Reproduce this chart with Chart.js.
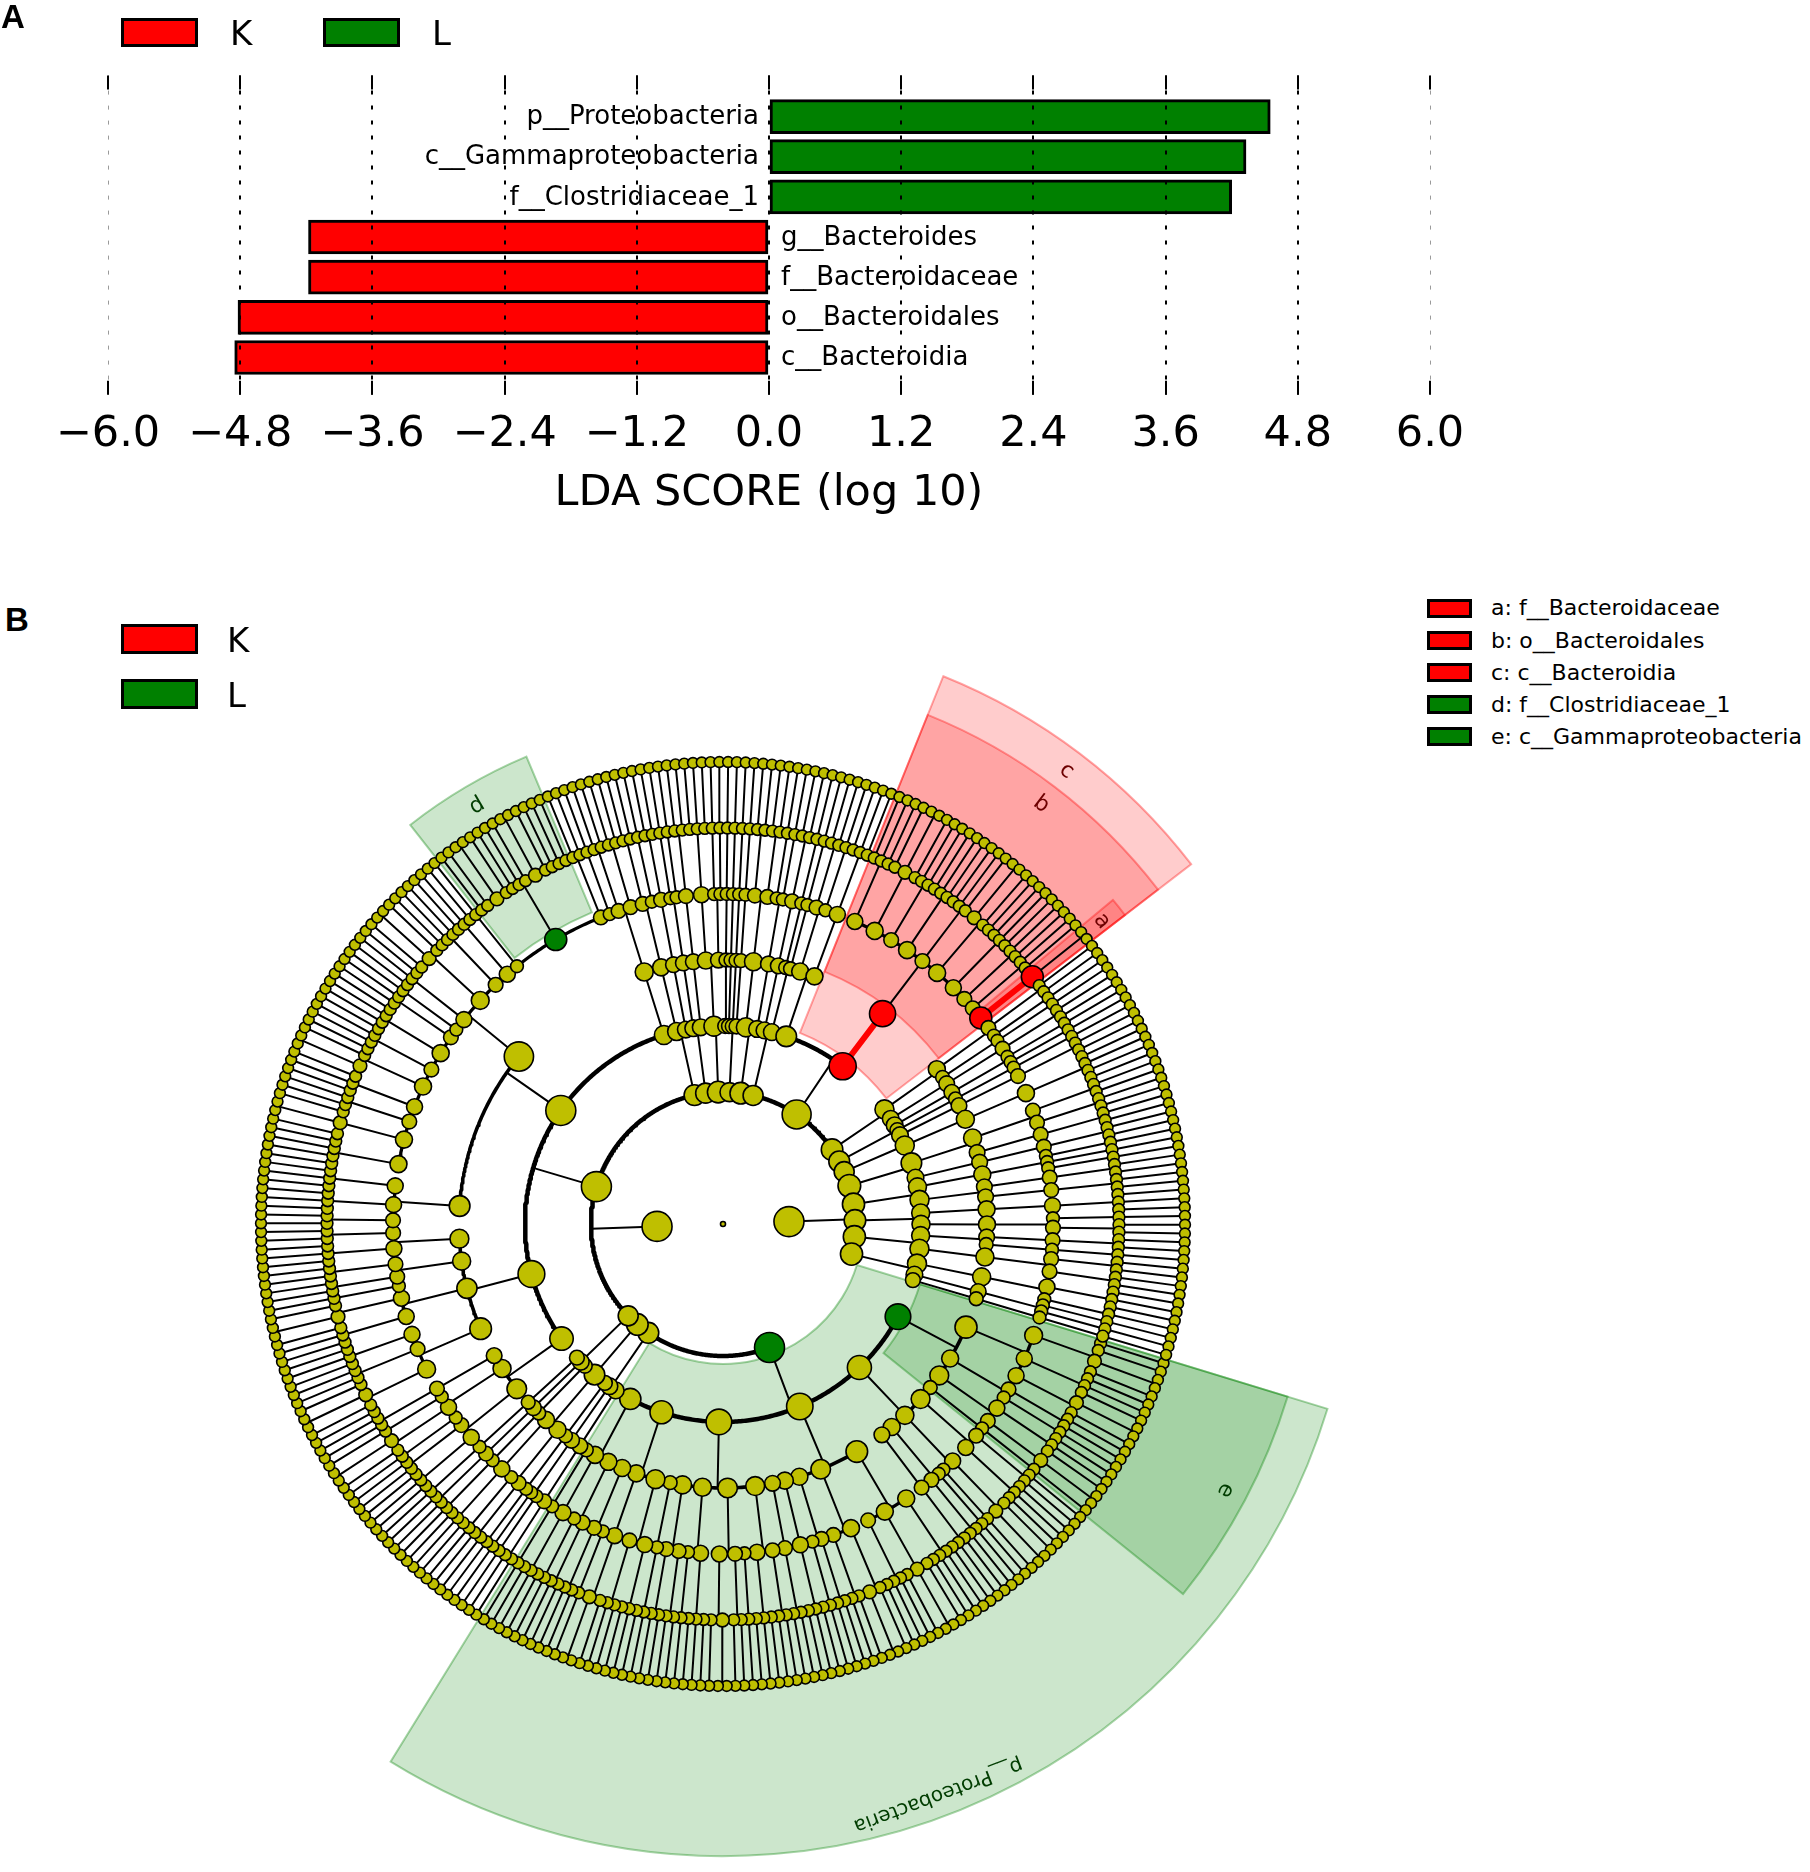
<!DOCTYPE html>
<html>
<head>
<meta charset="utf-8">
<script src="https://cdn.jsdelivr.net/npm/chart.js@4.4.1/dist/chart.umd.min.js"></script>
<style>
html, body { margin: 0; padding: 0; background: #fff; }
body { width: 1810px; height: 1872px; position: relative; overflow: hidden; font-family: "DejaVu Sans", sans-serif; }
.abs { position: absolute; }
.panel { font-family: "Liberation Sans", Arial, sans-serif; font-weight: bold; font-size: 33px; line-height: 33px; }
.box { position: absolute; box-sizing: border-box; border: 3px solid #000; }
.big { position: absolute; font-size: 34px; line-height: 34px; }
.small { position: absolute; font-size: 22px; line-height: 22px; white-space: nowrap; }
</style>
</head>
<body>
<canvas id="lda" class="abs" style="left:0;top:0" width="1810" height="540"></canvas>
<canvas id="clado" class="abs" style="left:73px;top:574px" width="1300" height="1300"></canvas>
<div class="abs panel" style="left:1px;top:0px">A</div>
<div class="abs panel" style="left:5px;top:603px">B</div>
<div id="legA"></div>
<div id="legB"></div>
<div id="legClades"></div>
<script>
// ---- panel A : LDA scores
const taxa = ['p__Proteobacteria', 'c__Gammaproteobacteria', 'f__Clostridiaceae_1',
              'g__Bacteroides', 'f__Bacteroidaceae', 'o__Bacteroidales', 'c__Bacteroidia'];
const ldaScore = [4.55, 4.33, 4.20, -4.18, -4.18, -4.82, -4.85];
const ldaClass = ['L', 'L', 'L', 'K', 'K', 'K', 'K'];
const xTicks = [-6.0, -4.8, -3.6, -2.4, -1.2, 0.0, 1.2, 2.4, 3.6, 4.8, 6.0];
const classNames = ['K', 'L'];
const classColor = { K: '#ff0000', L: '#008000' };

// ---- panel B : cladogram
// nesting: kingdom > phylum > class > order > family > genus, a number n = node with n leaf children
const gammaproteobacteria = [ [[1,1,2,1],[1,1,1],[2,1]], [[1,1],[1]], [[1,1,1],[2]], [[1]] ];
const alphaproteobacteria = [ [[1,1],[1,1,1]], [[1,2],[1]], [[1],[1,1]], [[1,1]] ];
const betaproteobacteria = [ [[1,1,1,1],[1,2,1],[1,1]], [[1,1,2],[1,1]], [[1,1],[1]], [[1,1,1]], [[1,1]] ];
const deltaproteobacteria = [ [[1,1],[1,1,1]], [[1],[1,1],[2,1]], [[1,1,1],[1]], [[1,1],[1,1]], [[1]] ];
const epsilonproteobacteria = [ [[1,1,1],[1,1]], [[1,2]], [[1],[1,1]] ];
const otherProteo = [ [[1,1],[1]], [[1,1,1]], [[1]] ];
const proteobacteria = [gammaproteobacteria, alphaproteobacteria, betaproteobacteria,
                        deltaproteobacteria, epsilonproteobacteria, otherProteo];

const phylumA = [ [[[1,1]]], [[[1],[1]]], [[[1]]] ];
const phylumB = [ [[[1,1],[1]], [[1,1,1]]] ];
const phylumC = [ [[[1]]], [[[1,1]]], [[[1]]] ];

const erysipelotrichia = [ [[1,1,1],[1,1],[1]], [[1,2],[1]], [[1,1]] ];
const bacilli = [ [[1,1,2,1],[1,1],[1,1,1]], [[1,1,1],[2,1],[1]], [[1,1],[1,1]], [[1,1,1],[1,1]] ];
const clostridiaceae1 = [1,1,2,1,1,1,1,2,1,1,1,1];
const clostridiales = [ [1,1,1,1],[1,2,1],[1,1],[1,1,1],[2,1,1],[1,1],[1,1,1,1],[1,1],[1],[1,1,1],
                        [1,2,1,1],[1,1],[1,1,1],[1], clostridiaceae1, [1,1],[1] ];
const clostridia = [ [[1,1],[1,1,1],[1,1,1]], clostridiales ];
const negativicutes = [ [[1,1],[1,1]] ];
const firmicutes = [erysipelotrichia, bacilli, clostridia, negativicutes];

const phylumT1 = [ [[[1,1],[1]]], [[[1,1]]] ];
const phylumT2 = [ [[[1],[1]]], [[[1,1]]] ];
const phylumT3 = [ [[[1,1,1]],[[1],[1]]], [[[1]]] ];
const phylumT4 = [ [[[1]]], [[[1]]], [[[1]]] ];
const phylumT5 = [ [[[1,1],[1,1]]], [[[1],[1]]] ];
const phylumT6 = [ [[[1,1]]], [[[1]],[[1]]] ];

const bacteroidia = [ [ [1,1,1],[1,2,1],[1,1],[1,1,1,1],[1,1],[2,1,1],[1,1,1],[1,1],[1,1],[2] ] ];
const bacteroidetes = [ [[[1,1],[1]], [[1,1,1]]], bacteroidia ];

const phylumR1 = [ [[[1,1],[1]], [[1]]], [[[1,1]]] ];
const phylumR2 = [ [[[1],[1]]], [[[1]]], [[[1,1]]] ];
const phylumR3 = [ [[[1,1,1,1]]] ];

const phylumK1 = [ [[[1,1],[1,1]], [[1,1]]], [[[1,1]]] ];
const phylumK2 = [ [[[1],[1],[1]]], [[[1,1]],[[1,1]]] ];
const phylumK3 = [ [[[1,1,1]]], [[[1],[1,1]]] ];
const phylumK4 = [ [[[1,1]],[[1]]], [[[1,1],[1,1]]] ];
const phylumK5 = [ [[[1,1,1],[1]]], [[[1],[1]]], [[[1]]] ];

const kingdomA = [proteobacteria, phylumA, phylumB, phylumC, firmicutes,
                  phylumT1, phylumT2, phylumT3, phylumT4, phylumT5, phylumT6,
                  bacteroidetes, phylumR1, phylumR2, phylumR3];
const kingdomB = [phylumK1, phylumK2, phylumK3, phylumK4, phylumK5];
const kingdoms = [kingdomA, kingdomB];

// biomarkers: path = kingdom, phylum, class, order, family, genus indices
const markerNames = ['p__Proteobacteria', 'c__Gammaproteobacteria', 'f__Clostridiaceae_1',
                     'c__Bacteroidia', 'o__Bacteroidales', 'f__Bacteroidaceae', 'g__Bacteroides'];
const markerPaths = [[0,0], [0,0,0], [0,4,2,1,14], [0,11,1], [0,11,1,0], [0,11,1,0,9], [0,11,1,0,9,0]];
const markerClass = ['L', 'L', 'L', 'K', 'K', 'K', 'K'];
const markerShade = ['p__Proteobacteria', 'e', 'd', 'c', 'b', 'a', ''];

const FONT = 'DejaVu Sans';

// ---------- legends (html)
function legendBox(parent, x, y, w, h, color) {
  const d = document.createElement('div');
  d.className = 'box';
  d.style.cssText = `left:${x}px;top:${y}px;width:${w}px;height:${h}px;background:${color}`;
  parent.appendChild(d);
}
function legendText(parent, cls, x, top, txt) {
  const d = document.createElement('div');
  d.className = cls;
  d.style.left = x + 'px';
  d.style.top = top + 'px';
  d.textContent = txt;
  parent.appendChild(d);
}
const legA = document.getElementById('legA');
classNames.forEach((c, i) => {
  legendBox(legA, 121 + i * 202, 18, 77, 29, classColor[c]);
  legendText(legA, 'big', 230 + i * 202, 16, c);
});
const legB = document.getElementById('legB');
classNames.forEach((c, i) => {
  legendBox(legB, 121, 624 + i * 55, 77, 30, classColor[c]);
  legendText(legB, 'big', 227, 623 + i * 55, c);
});
const legC = document.getElementById('legClades');
markerShade.map((s, i) => i).filter(i => markerShade[i].length === 1)
  .sort((a, b) => markerShade[a] < markerShade[b] ? -1 : 1)
  .forEach((i, row) => {
    const cy = 608 + row * 32.2;
    legendBox(legC, 1427, cy - 9.5, 45, 19, classColor[markerClass[i]]);
    legendText(legC, 'small', 1491, cy - 10.6, markerShade[i] + ': ' + markerNames[i]);
  });

// ---------- panel A chart
function fmtTick(v) {
  const s = Math.abs(v).toFixed(1);
  return v < -1e-9 ? '\u2212' + s : s;
}
const ldaPlugin = {
  id: 'ldaLabels',
  afterDatasetsDraw(chart) {
    const ctx = chart.ctx;
    const meta = chart.getDatasetMeta(0);
    ctx.save();
    ctx.font = `26px "${FONT}"`;
    ctx.fillStyle = '#000';
    ctx.textBaseline = 'middle';
    meta.data.forEach((el, i) => {
      if (ldaScore[i] >= 0) {
        ctx.textAlign = 'right';
        ctx.fillText(taxa[i], el.base - 11, el.y + 1);
      } else {
        ctx.textAlign = 'left';
        ctx.fillText(taxa[i], el.base + 13, el.y + 1);
      }
    });
    ctx.restore();
  },
  afterDraw(chart) {
    const ctx = chart.ctx, xs = chart.scales.x, area = chart.chartArea;
    ctx.save();
    ctx.strokeStyle = '#000';
    ctx.lineWidth = 2;
    xTicks.forEach(v => {
      const px = Math.round(xs.getPixelForValue(v));
      ctx.beginPath();
      ctx.moveTo(px, area.top); ctx.lineTo(px, area.top + 14);
      ctx.moveTo(px, area.bottom - 14); ctx.lineTo(px, area.bottom);
      ctx.stroke();
    });
    ctx.restore();
  }
};

new Chart(document.getElementById('lda'), {
  type: 'bar',
  data: {
    datasets: [{
      data: ldaScore.map((v, i) => ({ x: v, y: i })),
      backgroundColor: ldaClass.map(c => classColor[c]),
      borderColor: '#000',
      borderWidth: 3,
      borderSkipped: false,
      barThickness: 34
    }]
  },
  options: {
    indexAxis: 'y',
    responsive: false,
    animation: false,
    events: [],
    layout: { autoPadding: false, padding: { left: 108, right: 380, top: 75.6, bottom: 20 } },
    plugins: { legend: { display: false }, tooltip: { enabled: false } },
    scales: {
      x: {
        type: 'linear', min: -6, max: 6,
        afterBuildTicks: s => { s.ticks = xTicks.map(v => ({ value: v })); },
        ticks: { callback: v => fmtTick(v), font: { family: FONT, size: 43 }, color: '#000',
                 padding: 14, maxRotation: 0, autoSkip: false },
        grid: {
          z: 1, drawTicks: false,
          color: c => Math.abs(c.tick.value) > 5.9 ? '#9a9a9a' : '#000',
          lineWidth: c => Math.abs(c.tick.value) > 5.9 ? 1 : 2
        },
        border: { display: false, dash: [4, 11] },
        title: { display: true, text: 'LDA SCORE (log 10)', font: { family: FONT, size: 43 },
                 color: '#000', padding: { top: -6, bottom: 0 } }
      },
      y: { type: 'linear', min: -1.02, max: 6.93, reverse: true, offset: false, display: false }
    }
  },
  plugins: [ldaPlugin]
});

// ---------- panel B : layout of the cladogram
const ringStep = 66;
const startAngle = 107;   // degrees clockwise from north where the first leaf slot begins
let leafTotal = 0;
function build(spec, level, path) {
  const node = { level, path, children: [] };
  if (Array.isArray(spec)) spec.forEach((s, i) => node.children.push(build(s, level + 1, path.concat(i))));
  else for (let i = 0; i < spec; i++) node.children.push(build(0, level + 1, path.concat(i)));
  if (!node.children.length) { node.first = node.last = leafTotal++; }
  else { node.first = node.children[0].first; node.last = node.children[node.children.length - 1].last; }
  node.leaves = node.last - node.first + 1;
  return node;
}
const root = build(kingdoms, 0, []);
const slot = 360 / leafTotal;
function place(node) {
  node.children.forEach(place);
  // a clade sits at the middle of the leaf slots it covers
  node.angle = startAngle + (node.first + node.last + 1) / 2 * slot;
  node.r = node.level * ringStep;
}
place(root);

const byPath = {};
(function index(n) { byPath[n.path.join('.')] = n; n.children.forEach(index); })(root);
markerPaths.forEach((p, i) => { byPath[p.join('.')].marker = markerClass[i]; });

const rad = d => d * Math.PI / 180;
const polar = (r, a) => ({ x: r * Math.sin(rad(a)), y: r * Math.cos(rad(a)) });

const nodePts = [], nodeRad = [], nodeFill = [];
const lineGroups = new Map();
function seg(width, color, pts) {
  const key = width + '|' + color;
  if (!lineGroups.has(key)) lineGroups.set(key, { width, color, data: [] });
  const g = lineGroups.get(key);
  pts.forEach(p => g.data.push(p));
  g.data.push({ x: NaN, y: NaN });
}
const arcWidth = { 2: 4.5, 3: 4.5, 4: 3.6, 5: 3.3, 6: 2.6, 7: 2.2 };
function nodeSize(n) {
  let s = 3.8 + 2.3 * Math.log(n.leaves + 1) + 0.5 * (7 - n.level);
  if (n.marker) s = Math.max(s, 11);
  return Math.min(15, s);
}
function walk(n) {
  if (n.level === 0) {
    nodePts.push({ x: 0, y: 0 }); nodeRad.push(2.5); nodeFill.push('#bfbf00');
  } else {
    nodePts.push(polar(n.r, n.angle));
    nodeRad.push(nodeSize(n));
    nodeFill.push(n.marker ? classColor[n.marker] : '#bfbf00');
    const kids = n.children;
    if (kids.length === 1) {
      const c = kids[0];
      if (c.marker && n.marker) seg(6, classColor[c.marker], [polar(n.r, n.angle), polar(c.r, c.angle)]);
      else seg(2, '#000', [polar(n.r, n.angle), polar(c.r, c.angle)]);
    } else if (kids.length > 1) {
      const rc = kids[0].r;
      seg(2, '#000', [polar(n.r, n.angle), polar(rc, n.angle)]);
      const a0 = kids[0].angle, a1 = kids[kids.length - 1].angle;
      const steps = Math.max(2, Math.ceil((a1 - a0) / 0.5));
      const arc = [];
      for (let k = 0; k <= steps; k++) arc.push(polar(rc, a0 + (a1 - a0) * k / steps));
      seg(arcWidth[n.level + 1], '#000', arc);
    }
  }
  n.children.forEach(walk);
}
walk(root);

// shaded clades and their labels
const shadeFill = { K: 'rgba(255,0,0,0.2)', L: 'rgba(0,128,0,0.2)' };
const shadeEdge = { K: 'rgba(255,0,0,0.35)', L: 'rgba(0,128,0,0.35)' };
const shadeText = { K: '#6e0000', L: '#003d00' };
const sectorPlugin = {
  id: 'cladeSectors',
  beforeDatasetsDraw(chart) {
    const ctx = chart.ctx, xs = chart.scales.x, ys = chart.scales.y;
    const cx = xs.getPixelForValue(0), cy = ys.getPixelForValue(0);
    const k = xs.getPixelForValue(1) - cx;
    ctx.save();
    markerShade.forEach((lab, i) => {
      if (!lab) return;
      const n = byPath[markerPaths[i].join('.')];
      const cls = markerClass[i];
      const a0 = startAngle + n.first * slot, a1 = startAngle + (n.last + 1) * slot;
      const rIn = (n.r + 8) * k;
      const rOut = (507 + 41.7 * (5 - n.level)) * k;
      ctx.beginPath();
      ctx.arc(cx, cy, rOut, rad(a0 - 90), rad(a1 - 90), false);
      ctx.arc(cx, cy, rIn, rad(a1 - 90), rad(a0 - 90), true);
      ctx.closePath();
      ctx.fillStyle = shadeFill[cls];
      ctx.fill();
      ctx.strokeStyle = shadeEdge[cls];
      ctx.lineWidth = 2;
      ctx.stroke();
      const am = (a0 + a1) / 2, rl = rOut - 22 * k;
      ctx.save();
      ctx.translate(cx + rl * Math.sin(rad(am)), cy - rl * Math.cos(rad(am)));
      ctx.rotate(rad(am));
      ctx.font = `${lab.length > 1 ? 20 : 22}px "${FONT}"`;
      ctx.fillStyle = shadeText[cls];
      ctx.textAlign = 'center';
      ctx.textBaseline = 'middle';
      ctx.fillText(lab, 0, 0);
      ctx.restore();
    });
    ctx.restore();
  }
};

const datasets = [{
  data: nodePts,
  pointRadius: nodeRad,
  pointBackgroundColor: nodeFill,
  pointBorderColor: '#000',
  pointBorderWidth: 1.6,
  order: 0
}];
lineGroups.forEach(g => datasets.push({
  data: g.data, showLine: true, spanGaps: false, pointRadius: 0,
  borderColor: g.color, borderWidth: g.width, borderJoinStyle: 'round', order: 1
}));

new Chart(document.getElementById('clado'), {
  type: 'scatter',
  data: { datasets },
  options: {
    responsive: false,
    animation: false,
    events: [],
    layout: { autoPadding: false, padding: 0 },
    plugins: { legend: { display: false }, tooltip: { enabled: false } },
    scales: {
      x: { type: 'linear', min: -650, max: 650, display: false },
      y: { type: 'linear', min: -650, max: 650, display: false }
    }
  },
  plugins: [sectorPlugin]
});
</script>
</body>
</html>
